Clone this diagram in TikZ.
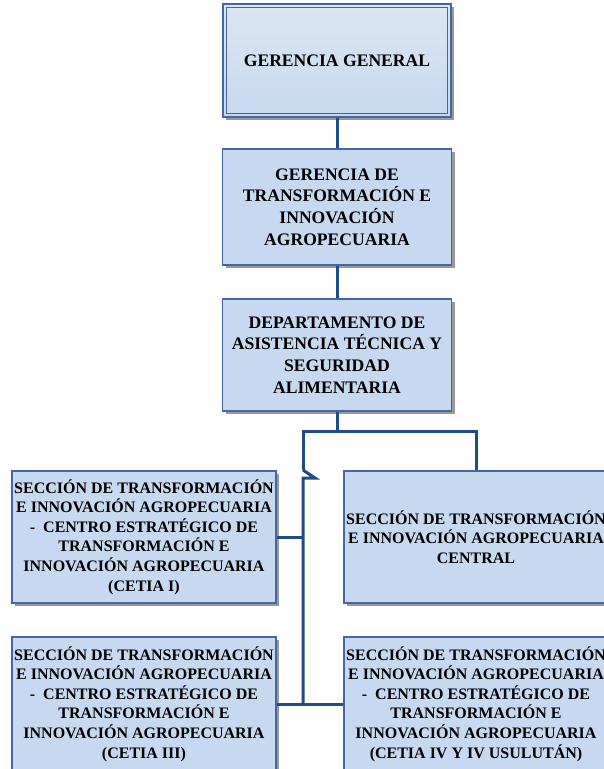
\documentclass[tikz,border=0pt]{standalone}
\usepackage{fontspec}
\setmainfont{Liberation Serif}
\usetikzlibrary{shadows}
\definecolor{boxfill}{HTML}{C6D9F0}
\definecolor{boxtop}{HTML}{DCE6F3}
\definecolor{boxline}{HTML}{41689F}
\definecolor{conn}{HTML}{1F4B87}
\tikzset{
  base/.style={draw=boxline, line width=1.3pt, fill=boxfill, align=center, inner sep=0pt,
    drop shadow={shadow xshift=3pt, shadow yshift=-3pt, fill=black!40, opacity=1}},
  bigbox/.style={base, font=\bfseries\fontsize{17.6}{21.7}\selectfont, minimum width=229pt},
  smallbox/.style={base, font=\bfseries\fontsize{16}{19.6}\selectfont, minimum width=264pt},
  link/.style={draw=conn, line width=3pt, line join=miter},
}
\begin{document}
\begin{tikzpicture}[x=1pt, y=-1pt]
\useasboundingbox (0,0) rectangle (603,769);
\fill[white] (0,0) rectangle (603,769);

\node[bigbox, minimum width=228pt, minimum height=113pt, top color=boxtop, bottom color=boxfill] (b1) at (337,60.5) {GERENCIA GENERAL};
\draw[boxline, line width=1.3pt] ([shift={(4pt,-4pt)}]b1.north west) rectangle ([shift={(-4pt,4pt)}]b1.south east);

\node[bigbox, minimum height=116pt] (b2) at (337,207) {GERENCIA DE\\TRANSFORMACIÓN E\\INNOVACIÓN\\AGROPECUARIA};
\node[bigbox, minimum height=112pt] (b3) at (337,355) {DEPARTAMENTO DE\\ASISTENCIA TÉCNICA Y\\SEGURIDAD\\ALIMENTARIA};

\node[smallbox, minimum height=132pt] (s1) at (144,537) {SECCIÓN DE TRANSFORMACIÓN\\E INNOVACIÓN AGROPECUARIA\\-\ \ CENTRO ESTRATÉGICO DE\\TRANSFORMACIÓN E\\INNOVACIÓN AGROPECUARIA\\(CETIA I)};
\node[smallbox, minimum height=132pt] (s2) at (476,537) {SECCIÓN DE TRANSFORMACIÓN\\E INNOVACIÓN AGROPECUARIA\\CENTRAL};
\node[smallbox, minimum height=134pt] (s3) at (144,704) {SECCIÓN DE TRANSFORMACIÓN\\E INNOVACIÓN AGROPECUARIA\\-\ \ CENTRO ESTRATÉGICO DE\\TRANSFORMACIÓN E\\INNOVACIÓN AGROPECUARIA\\(CETIA III)};
\node[smallbox, minimum height=134pt] (s4) at (476,704) {SECCIÓN DE TRANSFORMACIÓN\\E INNOVACIÓN AGROPECUARIA\\-\ \ CENTRO ESTRATÉGICO DE\\TRANSFORMACIÓN E\\INNOVACIÓN AGROPECUARIA\\(CETIA IV Y IV USULUTÁN)};

\coordinate (j) at (337,431);
\coordinate (jl) at (303,431);
\coordinate (jr) at (476,431);
\coordinate (n1) at (303,470);
\coordinate (n2) at (315,478);
\coordinate (n3) at (303,478);
\coordinate (v1) at (303,537);
\coordinate (v2) at (303,704);

\draw[link] (b1.south) -- (b2.north);
\draw[link] (b2.south) -- (b3.north);
\draw[link] (b3.south) -- (j);
\draw[link] (n1) -- (jl) -- (jr) -- (s2.north);
\draw[link] (n1) -- (n2) -- (n3) -- (v2);
\draw[link] (s1.east) -- (v1);
\draw[link] (s3.east) -- (s4.west);
\end{tikzpicture}
\end{document}
